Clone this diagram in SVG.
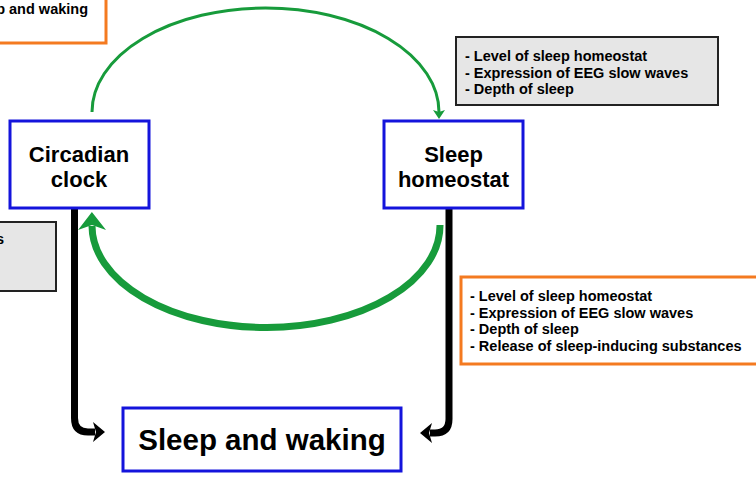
<svg xmlns="http://www.w3.org/2000/svg" width="756" height="484" viewBox="0 0 756 484">
<style>
  .node rect { fill: #ffffff; stroke: #1414dc; stroke-width: 3; }
  .node text { font-family: "Liberation Sans", Arial, sans-serif; font-weight: bold; fill: #000; text-anchor: middle; }
  .note text { font-family: "Liberation Sans", Arial, sans-serif; font-weight: bold; font-size: 14.5px; fill: #000; }
  .gray rect { fill: #e6e6e6; stroke: #222; stroke-width: 2; }
  .orange rect { fill: #ffffff; stroke: #f47a20; stroke-width: 3; }
  .green { fill: none; stroke: #179b3b; }
  .black { fill: none; stroke: #000; stroke-width: 7; }
</style>
<defs>
  <marker id="gThin" markerUnits="userSpaceOnUse" viewBox="-2 -8 14 16" markerWidth="14" markerHeight="16" refX="2" refY="0" orient="auto">
    <path d="M0,-6 L9,0 L0,6 L2,0 z" fill="#179b3b"/>
  </marker>
  <marker id="gThick" markerUnits="userSpaceOnUse" viewBox="-2 -16 24 32" markerWidth="24" markerHeight="32" refX="4" refY="0" orient="auto">
    <path d="M0,-14 L18,0 L0,14 L5,0 z" fill="#179b3b"/>
  </marker>
  <marker id="bHead" markerUnits="userSpaceOnUse" viewBox="-2 -12 18 24" markerWidth="18" markerHeight="24" refX="2" refY="0" orient="auto">
    <path d="M0,-10 L12,0 L0,10 L3,0 z" fill="#000"/>
  </marker>
</defs>

<g id="note-top-left" class="note orange">
  <rect x="-10" y="-10" width="116" height="53"/>
  <text x="88" y="14" text-anchor="end">p and waking</text>
</g>
<g id="note-left" class="note gray">
  <rect x="-10" y="222" width="66" height="69"/>
  <text x="4" y="244" text-anchor="end">s</text>
</g>
<g id="note-top-right" class="note gray">
  <rect x="456" y="37" width="262" height="68"/>
  <text x="465" y="61">- Level of sleep homeostat</text>
  <text x="465" y="77.5">- Expression of EEG slow waves</text>
  <text x="465" y="94">- Depth of sleep</text>
</g>
<g id="note-right" class="note orange">
  <rect x="461" y="277" width="310" height="87"/>
  <text x="470" y="301">- Level of sleep homeostat</text>
  <text x="470" y="317.5">- Expression of EEG slow waves</text>
  <text x="470" y="334">- Depth of sleep</text>
  <text x="470" y="350.5">- Release of sleep-inducing substances</text>
</g>

<g id="connectors">
  <path class="green" stroke-width="3" d="M92,112 A173.5 104 0 0 1 439,112" marker-end="url(#gThin)"/>
  <path class="green" stroke-width="7" d="M440,225 A174 102 0 0 1 92,226" marker-end="url(#gThick)"/>
  <path class="black" d="M74.5,207 V418 Q74.5,432 88,432 H95" marker-end="url(#bHead)"/>
  <path class="black" d="M449,207 V419 Q449,433 435,433 H430" marker-end="url(#bHead)"/>
</g>

<g id="circadian-clock" class="node">
  <rect x="10" y="121" width="139" height="87"/>
  <text x="79" y="161.5" font-size="22">Circadian</text>
  <text x="79" y="186.5" font-size="22">clock</text>
</g>
<g id="sleep-homeostat" class="node">
  <rect x="384" y="121" width="139" height="87"/>
  <text x="453.5" y="161.5" font-size="22">Sleep</text>
  <text x="453.5" y="186.5" font-size="22">homeostat</text>
</g>
<g id="sleep-and-waking" class="node">
  <rect x="123" y="408" width="278" height="63"/>
  <text x="262" y="450" font-size="29.5">Sleep and waking</text>
</g>
</svg>
